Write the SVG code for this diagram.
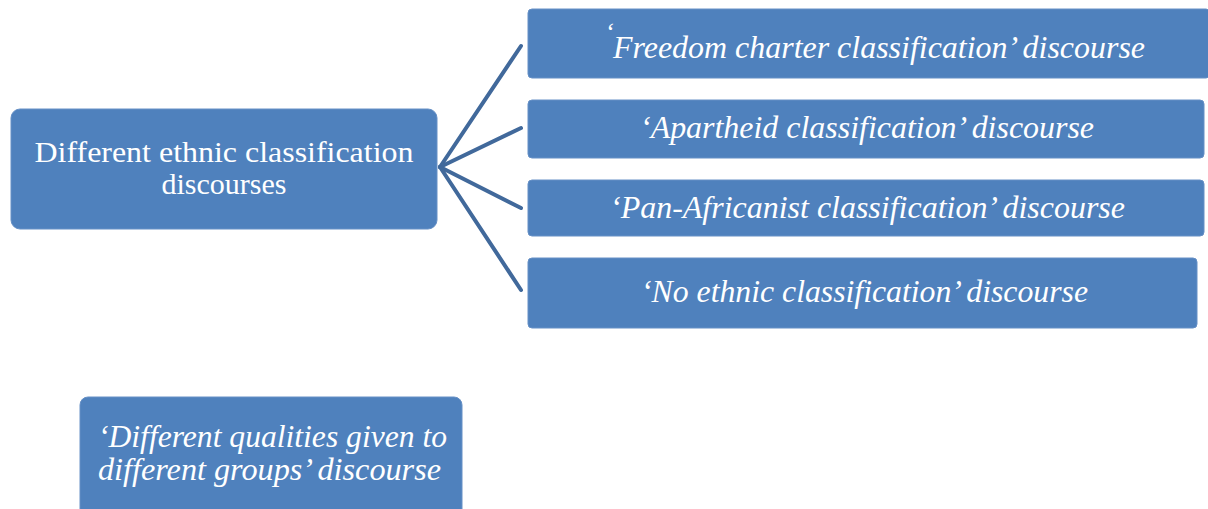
<svg xmlns="http://www.w3.org/2000/svg" width="1208" height="509" viewBox="0 0 1208 509">
  <style>
    .box { fill: #4F81BD; stroke: #6690C6; stroke-width: 1; }
    .lbl { fill: #FFFFFF; font-family: "Liberation Serif", "Tinos", "Noto Serif", "DejaVu Serif", serif; }
    .it { font-style: italic; font-size: 31px; }
    .main { font-size: 30px; }
    .link { stroke: #41699B; stroke-width: 4; fill: none; stroke-linecap: round; }
  </style>
  <rect width="1208" height="509" fill="#FFFFFF"/>

  <g id="connectors">
    <line class="link" x1="440" y1="167" x2="521" y2="46"/>
    <line class="link" x1="440" y1="167" x2="521" y2="128"/>
    <line class="link" x1="440" y1="167" x2="521" y2="208"/>
    <line class="link" x1="440" y1="167" x2="521" y2="290"/>
  </g>

  <g id="node-root">
    <rect class="box" x="11" y="109" width="426" height="120" rx="9"/>
    <text class="lbl main" text-anchor="middle" x="224" y="162" textLength="379" lengthAdjust="spacingAndGlyphs">Different ethnic classification</text>
    <text class="lbl main" text-anchor="middle" x="224" y="194">discourses</text>
  </g>

  <g id="node-freedom">
    <rect class="box" x="528" y="9" width="682" height="69" rx="4"/>
    <text class="lbl it"><tspan x="605" y="40" font-size="26">‘</tspan><tspan x="613" y="58" textLength="532" lengthAdjust="spacingAndGlyphs">Freedom charter classification’ discourse</tspan></text>
  </g>

  <g id="node-apartheid">
    <rect class="box" x="528" y="100" width="676" height="58" rx="4"/>
    <text class="lbl it" x="640" y="138" textLength="454" lengthAdjust="spacingAndGlyphs">‘Apartheid classification’ discourse</text>
  </g>

  <g id="node-panafricanist">
    <rect class="box" x="528" y="180" width="676" height="56" rx="4"/>
    <text class="lbl it" x="610" y="218" textLength="515" lengthAdjust="spacingAndGlyphs">‘Pan-Africanist classification’ discourse</text>
  </g>

  <g id="node-no-ethnic">
    <rect class="box" x="528" y="258" width="669" height="70" rx="4"/>
    <text class="lbl it" x="641" y="302" textLength="447" lengthAdjust="spacingAndGlyphs">‘No ethnic classification’ discourse</text>
  </g>

  <g id="node-qualities">
    <rect class="box" x="80" y="397" width="382" height="130" rx="8"/>
    <text class="lbl it" x="98" y="447" textLength="349" lengthAdjust="spacingAndGlyphs">‘Different qualities given to</text>
    <text class="lbl it" x="98" y="480" textLength="343" lengthAdjust="spacingAndGlyphs">different groups’ discourse</text>
  </g>
</svg>
